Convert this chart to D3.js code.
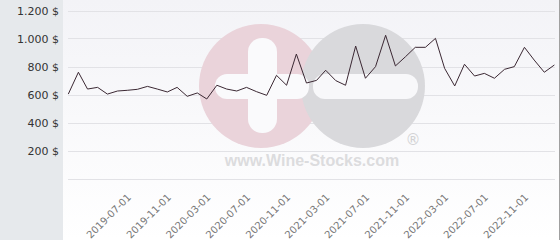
<!DOCTYPE html>
<meta charset="utf-8">
<style>
  body { margin: 0; background: #fff; font-family: "DejaVu Sans", sans-serif; }
  .grid line { stroke: #e2e2e6; }
  .ylab text { font-size: 11px; fill: #333; }
  .xlab text { font-size: 10px; fill: #777; }
</style>
<body>
<script src="https://cdn.jsdelivr.net/npm/d3@7"></script>
<script>
  // monthly prices, first month 2019-01
  var startMonth = "2019-01-01";
  var prices = [603, 759, 639, 651, 603, 625, 630, 637, 658, 639,
                618, 651, 587, 611, 568, 666, 639, 625, 651, 620,
                594, 737, 666, 889, 682, 701, 773, 699, 666, 946,
                716, 799, 1023, 804, 870, 937, 937, 1001, 787, 661,
                816, 732, 751, 716, 780, 799, 937, 846, 759, 811];
  var yTicks = [200, 400, 600, 800, 1000, 1200];
  var xTicks = ["2019-07-01", "2019-11-01", "2020-03-01", "2020-07-01", "2020-11-01",
                "2021-03-01", "2021-07-01", "2021-11-01", "2022-03-01", "2022-07-01", "2022-11-01"];

  var width = 560, height = 240;
  var parse = d3.timeParse("%Y-%m-%d");
  var t0 = parse(startMonth);
  var data = prices.map(function(v, i) { return { date: d3.timeMonth.offset(t0, i), value: v }; });

  var x = d3.scaleTime()
    .domain(d3.extent(data, function(d) { return d.date; }))
    .range([68.3, 554.4]);
  var y = d3.scaleLinear().domain([0, 1200]).range([178.5, 10.5]);
  var locale = d3.formatLocale({ decimal: ",", thousands: ".", grouping: [3], currency: ["", " $"] });
  var yfmt = locale.format(",");

  var svg = d3.select("body").append("svg")
    .attr("width", width)
    .attr("height", height)
    .style("display", "block");

  var defs = svg.append("defs");
  var grad = defs.append("linearGradient").attr("id", "bg").attr("x1", 0).attr("y1", 0).attr("x2", 0).attr("y2", 1);
  grad.append("stop").attr("offset", "0%").attr("stop-color", "#f3f3f7");
  grad.append("stop").attr("offset", "100%").attr("stop-color", "#ffffff");

  // left panel + plot bg
  svg.append("rect").attr("x", 0).attr("y", 0).attr("width", 63).attr("height", height).attr("fill", "#e6e9ec");
  svg.append("rect").attr("x", 63).attr("y", 0).attr("width", width - 64).attr("height", height).attr("fill", "url(#bg)");
  svg.append("line").attr("x1", 559.5).attr("x2", 559.5).attr("y1", 0).attr("y2", height).attr("stroke", "#a0a0a0");

  // grid
  svg.append("g").attr("class", "grid")
    .selectAll("line").data([0].concat(yTicks)).join("line")
    .attr("x1", 68).attr("x2", 555)
    .attr("y1", function(d) { return Math.round(y(d)) + 0.5; })
    .attr("y2", function(d) { return Math.round(y(d)) + 0.5; });

  // watermark
  var wm = svg.append("g");
  wm.append("circle").attr("cx", 261).attr("cy", 86).attr("r", 62).attr("fill", "#ead3da");
  wm.append("circle").attr("cx", 363).attr("cy", 86).attr("r", 62).attr("fill", "#d9d9dc");
  wm.append("rect").attr("x", 248).attr("y", 38).attr("width", 29).attr("height", 95).attr("rx", 14).attr("fill", "#fafafc");
  wm.append("rect").attr("x", 215).attr("y", 74).attr("width", 94).attr("height", 25).attr("rx", 12).attr("fill", "#fafafc");
  wm.append("rect").attr("x", 313).attr("y", 74).attr("width", 105).attr("height", 25).attr("rx", 12).attr("fill", "#f8f8fa");
  wm.append("text").attr("x", 413).attr("y", 145).attr("text-anchor", "middle")
    .attr("font-size", 15).attr("fill", "#d2d2d4").text("®");
  wm.append("text").attr("x", 312).attr("y", 166).attr("text-anchor", "middle")
    .attr("font-family", "'Liberation Sans', Arial, sans-serif").attr("font-weight", "bold")
    .attr("font-size", 16).attr("fill", "#dcdcde").text("www.Wine-Stocks.com");

  // y labels
  svg.append("g").attr("class", "ylab")
    .selectAll("text").data(yTicks).join("text")
    .attr("x", 59).attr("y", function(d) { return y(d) + 4; })
    .attr("text-anchor", "end")
    .text(function(d) { return yfmt(d) + " $"; });

  // x labels
  svg.append("g").attr("class", "xlab")
    .selectAll("text").data(xTicks).join("text")
    .attr("text-anchor", "end")
    .attr("transform", function(d) { return "translate(" + (x(parse(d)) + 4.5) + ",198) rotate(-45)"; })
    .text(function(d) { return d; });

  // line
  var line = d3.line()
    .x(function(d) { return x(d.date); })
    .y(function(d) { return y(d.value); });
  svg.append("path").datum(data)
    .attr("fill", "none")
    .attr("stroke", "#3b2833")
    .attr("stroke-width", 1)
    .attr("d", line);
</script>
</body>
